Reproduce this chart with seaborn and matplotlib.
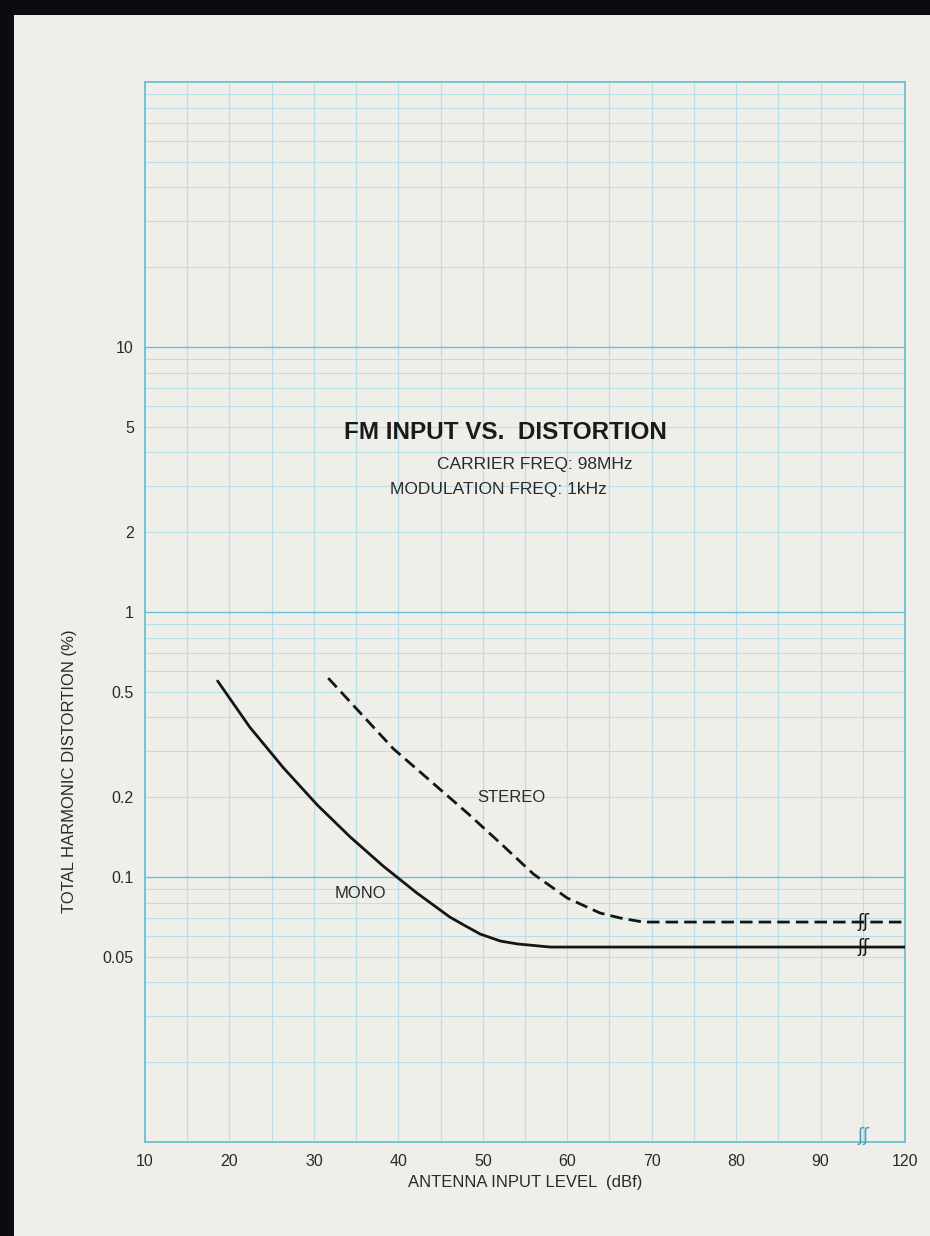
import matplotlib
matplotlib.use('Agg')
import matplotlib.pyplot as plt
import pandas as pd
import seaborn as sns
from matplotlib.patches import Rectangle
from matplotlib.ticker import FixedLocator, NullLocator

# values (x in dBf, y in % THD)
mono_x = [18.6, 22.4, 26.4, 30.4, 34.3, 38.2, 42.2, 46.1, 47.9, 49.7, 52.1, 54.1, 58.0, 120]
mono_y = [0.549, 0.368, 0.258, 0.187, 0.1416, 0.110, 0.087, 0.0706, 0.0655, 0.0609,
          0.0573, 0.0559, 0.0544, 0.0544]
stereo_x = [31.7, 35.5, 39.4, 44.1, 48.2, 52.1, 56.0, 60.0, 63.9, 66.3, 69.0, 120]
stereo_y = [0.563, 0.416, 0.305, 0.226, 0.174, 0.134, 0.1026, 0.0833, 0.0731, 0.070,
            0.0676, 0.0676]

x_ticks = [10, 20, 30, 40, 50, 60, 70, 80, 90, 120]
y_ticks = [0.05, 0.1, 0.2, 0.5, 1, 2, 5, 10]
y_labels = ['0.05', '0.1', '0.2', '0.5', '1', '2', '5', '10']


def squeeze(v):
    # axis is broken between 90 and 120 dBf
    return v if v <= 90 else 90 + (v - 90) / 3.0


paper = '#efeee9'
cyan = '#6cbfd2'
grid_c = '#bbdfe6'
ink = '#2a2a2a'

sns.set_style('white')
plt.rcParams['font.family'] = ['Liberation Sans', 'DejaVu Sans']

fig = plt.figure(figsize=(9.3, 12.36), dpi=100, facecolor='#0b0b10')
fig.patches.append(Rectangle((14 / 930, 0), 1, 1 - 15 / 1236, transform=fig.transFigure,
                             facecolor=paper, edgecolor='none', zorder=-10))

ax = fig.add_axes([145 / 930, 1 - 1142 / 1236, 760 / 930, 1060 / 1236])
ax.patch.set_alpha(0)
ax.set_yscale('log')
ax.set_xlim(10, 100)
ax.set_ylim(0.01, 100)

# graph paper grid
for xv in range(15, 100, 5):
    ax.axvline(xv, color=grid_c, lw=0.9, zorder=1)
for dec in [0.01, 0.1, 1, 10]:
    for m in range(1, 10):
        v = dec * m
        if 0.01 < v < 100:
            ax.axhline(v, color=cyan if m == 1 else grid_c, lw=1.0 if m == 1 else 0.8, zorder=1)

mono = pd.DataFrame({'x': [squeeze(v) for v in mono_x], 'thd': mono_y})
stereo = pd.DataFrame({'x': [squeeze(v) for v in stereo_x], 'thd': stereo_y})

sns.lineplot(data=mono, x='x', y='thd', color='#151515', lw=2.0, ax=ax, zorder=3)
sns.lineplot(data=stereo, x='x', y='thd', color='#151515', lw=2.0, ax=ax, zorder=3)
ax.lines[-1].set_dashes((4.5, 2.2))
for ln in ax.lines[-2:]:
    ln.set_solid_joinstyle('round')
    ln.set_dash_joinstyle('round')

# break marks
for yv in [mono_y[-1], stereo_y[-1]]:
    ax.text(95.1, yv, 'ʃʃ', ha='center', va='center', fontsize=13, color='#151515',
            family='DejaVu Sans', zorder=4)
ax.text(95.1, 0.0105, 'ʃʃ', ha='center', va='center', fontsize=13, color='#3a9fc0',
        family='DejaVu Sans', zorder=4)

for s in ax.spines.values():
    s.set_visible(True)
    s.set_color(cyan)
    s.set_linewidth(1.3)

ax.xaxis.set_major_locator(FixedLocator([squeeze(v) for v in x_ticks]))
ax.set_xticklabels([str(v) for v in x_ticks])
ax.yaxis.set_major_locator(FixedLocator(y_ticks))
ax.yaxis.set_minor_locator(NullLocator())
ax.set_yticklabels(y_labels)
ax.tick_params(axis='both', length=0, labelsize=11.5, colors=ink)
ax.tick_params(axis='x', pad=9)
ax.tick_params(axis='y', pad=8)

ax.set_xlabel('ANTENNA INPUT LEVEL  (dBf)', fontsize=12, color=ink, labelpad=4)
ax.set_ylabel('TOTAL HARMONIC DISTORTION (%)', fontsize=12, color=ink)
ax.yaxis.set_label_coords(-0.09, 0.35)

ax.text(52.7, 4.74, 'FM INPUT VS.  DISTORTION', ha='center', va='center',
        fontsize=17.5, fontweight='bold', color='#1a1a1a')
ax.text(56.2, 3.59, 'CARRIER FREQ: 98MHz', ha='center', va='center', fontsize=12.5, color=ink)
ax.text(51.9, 2.91, 'MODULATION FREQ: 1kHz', ha='center', va='center', fontsize=12.5, color=ink)
ax.text(53.4, 0.200, 'STEREO', ha='center', va='center', fontsize=12, color=ink)
ax.text(35.5, 0.087, 'MONO', ha='center', va='center', fontsize=12, color=ink)

fig.savefig('out.png', dpi=100, facecolor=fig.get_facecolor())
